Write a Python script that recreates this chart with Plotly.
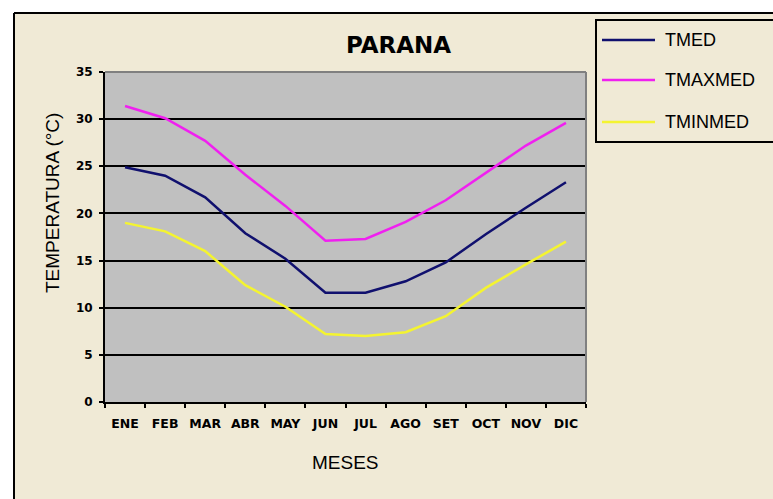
import plotly.graph_objects as go

# Monthly mean temperatures for Paraná (°C)
months = ["ENE", "FEB", "MAR", "ABR", "MAY", "JUN",
          "JUL", "AGO", "SET", "OCT", "NOV", "DIC"]
tmed = [24.9, 24.0, 21.7, 17.9, 15.2, 11.6, 11.6, 12.8, 14.8, 17.8, 20.6, 23.3]
tmaxmed = [31.4, 30.1, 27.7, 24.1, 20.8, 17.1, 17.3, 19.1, 21.4, 24.3, 27.2, 29.6]
tminmed = [19.0, 18.1, 16.0, 12.4, 10.1, 7.2, 7.0, 7.4, 9.1, 12.1, 14.6, 17.0]

series_names = ["TMED", "TMAXMED", "TMINMED"]
series_values = [tmed, tmaxmed, tminmed]
series_colors = ["#10106e", "#f020f0", "#f4f430"]

W, H = 773, 499
L, R, T, B = 105, 586, 72, 402  # plot area in pixels


def px(x):
    return (x - L) / (R - L)


def py(y):
    return (B - y) / (B - T)


fig = go.Figure()
for name, vals, col in zip(series_names, series_values, series_colors):
    fig.add_trace(go.Scatter(x=months, y=vals, name=name, mode="lines",
                             line=dict(color=col, width=2.5),
                             showlegend=False))

cream = "#f0ead6"
shapes = [
    # white strips outside the chart frame
    dict(type="rect", xref="paper", yref="paper", x0=px(-5), x1=px(14),
         y0=py(505), y1=py(-5), fillcolor="white", line_width=0, layer="below"),
    dict(type="rect", xref="paper", yref="paper", x0=px(-5), x1=px(780),
         y0=py(13), y1=py(-5), fillcolor="white", line_width=0, layer="below"),
    # chart frame
    dict(type="line", xref="paper", yref="paper", x0=px(14), x1=px(14),
         y0=py(13), y1=py(505), line=dict(color="black", width=2)),
    dict(type="line", xref="paper", yref="paper", x0=px(14), x1=px(780),
         y0=py(13), y1=py(13), line=dict(color="black", width=2)),
    # plot area top / right border
    dict(type="line", xref="paper", yref="paper", x0=0, x1=1, y0=1, y1=1,
         line=dict(color="#808080", width=2)),
    dict(type="line", xref="paper", yref="paper", x0=1, x1=1, y0=0, y1=1,
         line=dict(color="#808080", width=2)),
    # legend box
    dict(type="rect", xref="paper", yref="paper", x0=px(596), x1=px(800),
         y0=py(142), y1=py(20), fillcolor=cream,
         line=dict(color="black", width=2)),
]

annotations = [
    dict(text="<b>PARANA</b>", x=px(398), y=py(45), xref="paper", yref="paper",
         xanchor="center", yanchor="middle", showarrow=False,
         font=dict(family="DejaVu Sans", size=23, color="black")),
    dict(text="TEMPERATURA (°C)", x=px(52), y=py(203), xref="paper", yref="paper",
         xanchor="center", yanchor="middle", showarrow=False, textangle=-90,
         font=dict(family="Arial", size=19, color="black")),
    dict(text="MESES", x=px(345), y=py(462), xref="paper", yref="paper",
         xanchor="center", yanchor="middle", showarrow=False,
         font=dict(family="Arial", size=19, color="black")),
]

legend_y = [40, 80, 122]
for name, col, ly in zip(series_names, series_colors, legend_y):
    shapes.append(dict(type="line", xref="paper", yref="paper",
                       x0=px(602), x1=px(655), y0=py(ly), y1=py(ly),
                       line=dict(color=col, width=2.5)))
    annotations.append(dict(text=name, x=px(663), y=py(ly), xref="paper",
                            yref="paper", xanchor="left", yanchor="middle",
                            showarrow=False,
                            font=dict(family="Arial", size=18, color="black")))

fig.update_layout(
    width=W, height=H,
    margin=dict(l=L, r=W - R, t=T, b=H - B),
    paper_bgcolor=cream,
    plot_bgcolor="#c0c0c0",
    shapes=shapes,
    annotations=annotations,
    xaxis=dict(type="category", categoryorder="array", categoryarray=months,
               range=[-0.5, 11.5], tickson="boundaries", ticks="outside",
               ticklen=4, tickcolor="black", tickwidth=1.5, tickangle=0,
               ticklabelstandoff=9,
               showline=True, linecolor="black", linewidth=2,
               showgrid=False, zeroline=False,
               tickfont=dict(family="DejaVu Sans", size=12.5, color="black",
                             weight="bold")),
    yaxis=dict(range=[0, 35], dtick=5, ticks="outside", ticklen=4,
               tickcolor="black", tickwidth=1.5, ticklabelstandoff=4,
               showline=True, linecolor="black", linewidth=2,
               showgrid=True, gridcolor="black", gridwidth=1.5,
               zeroline=False,
               tickfont=dict(family="DejaVu Sans", size=12, color="black",
                             weight="bold")),
)

fig.write_html("out.html")
